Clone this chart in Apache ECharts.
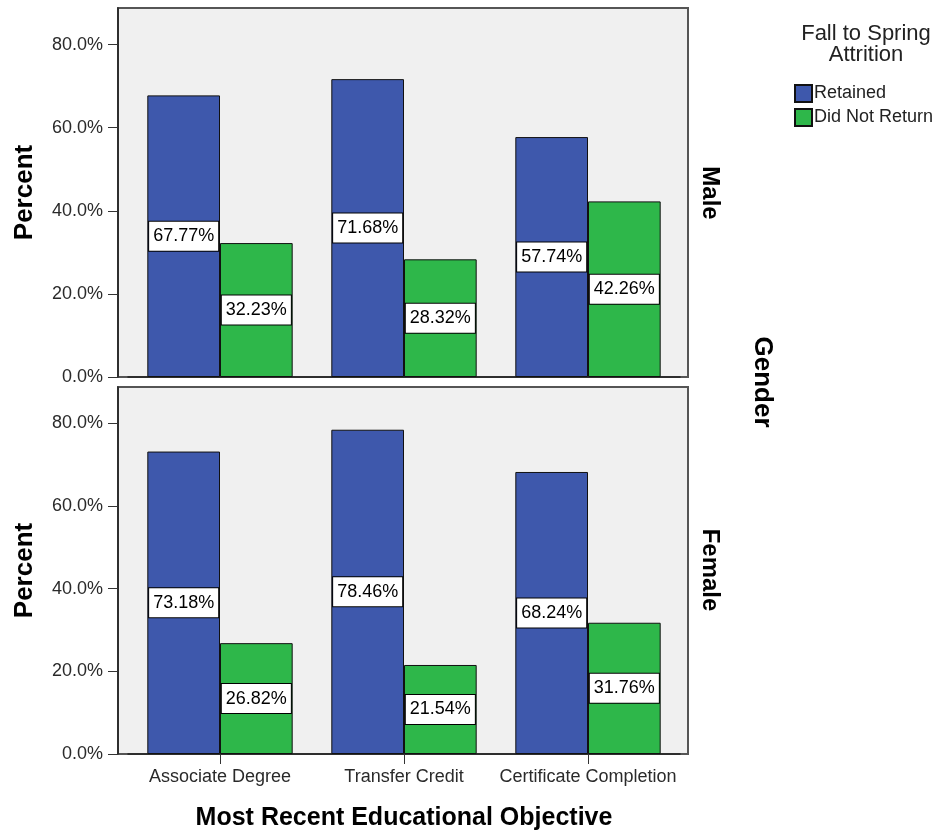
<!DOCTYPE html>
<html>
<head>
<meta charset="utf-8">
<script src="https://cdn.jsdelivr.net/npm/echarts@6/dist/echarts.min.js"></script>
<style>
html,body{margin:0;padding:0;background:#fff;}
#chart{width:936px;height:832px;}
</style>
</head>
<body>
<div id="chart"></div>
<script>
const categories = ['Associate Degree', 'Transfer Credit', 'Certificate Completion'];
const seriesNames = ['Retained', 'Did Not Return'];
const panelNames = ['Male', 'Female'];
const maleRetained = [67.77, 71.68, 57.74];
const maleDidNotReturn = [32.23, 28.32, 42.26];
const femaleRetained = [73.18, 78.46, 68.24];
const femaleDidNotReturn = [26.82, 21.54, 31.76];
const yTicks = [0, 20, 40, 60, 80];

const FONT = '"Liberation Sans", Arial, sans-serif';
const BLUE = '#3e58ac';
const GREEN = '#2eb74a';

const chart = echarts.init(document.getElementById('chart'));

const grids = [
  { left: 128, width: 552, top: 8, height: 369 },
  { left: 128, width: 552, top: 387, height: 367 }
];

function makeYAxis(gi) {
  return {
    type: 'value', gridIndex: gi, min: 0, max: 88.8, offset: 10,
    name: 'Percent', nameLocation: 'middle', nameGap: 80,
    nameTextStyle: { fontFamily: FONT, fontSize: 26, fontWeight: 'bold', color: '#000' },
    axisLine: { show: true, lineStyle: { color: '#222', width: 1.5 } },
    axisTick: { show: true, length: 10, customValues: yTicks, lineStyle: { color: '#333' } },
    axisLabel: { customValues: yTicks, margin: 15, fontFamily: FONT, fontSize: 18, color: '#2a2a2a',
      formatter: v => v.toFixed(1) + '%' },
    splitLine: { show: false }
  };
}

function makeXAxis(gi, bottom) {
  return {
    type: 'category', gridIndex: gi, data: categories, boundaryGap: true,
    axisLine: { show: true, lineStyle: { color: '#222', width: 1.5 } },
    axisTick: { show: bottom, alignWithLabel: true, length: 10, interval: 0, lineStyle: { color: '#333' } },
    axisLabel: { show: bottom, interval: 0, hideOverlap: false, margin: 14, fontFamily: FONT, fontSize: 18, color: '#2a2a2a' },
    name: bottom ? 'Most Recent Educational Objective' : '',
    nameLocation: 'middle', nameGap: 52,
    nameTextStyle: { fontFamily: FONT, fontSize: 25, fontWeight: 'bold', color: '#000' },
    splitLine: { show: false }
  };
}

const labelOpt = {
  show: true, position: 'inside', fontFamily: FONT, fontSize: 18, color: '#000',
  backgroundColor: '#fff', borderColor: '#000', borderWidth: 1,
  padding: [6, 4, 5, 4], lineHeight: 18,
  formatter: p => p.value.toFixed(2) + '%'
};

function bar(name, data, gi, color) {
  return {
    type: 'bar', name: name, xAxisIndex: gi, yAxisIndex: gi, data: data,
    barGap: '0%', barCategoryGap: '21%',
    itemStyle: { color: color, borderColor: '#111', borderWidth: 1 },
    label: labelOpt
  };
}

const frames = grids.map(g => ({
  type: 'rect', z: -10,
  shape: { x: 118, y: g.top, width: 570, height: g.height },
  style: { fill: '#f0f0f0', stroke: '#555', lineWidth: 2 }
}));

function sideText(text, x, y, size) {
  return {
    type: 'text', x: x, y: y, rotation: -Math.PI / 2,
    style: { text: text, fontFamily: FONT, fontSize: size, fontWeight: 'bold', fill: '#000',
      align: 'center', verticalAlign: 'middle' }
  };
}

chart.setOption({
  animation: false,
  backgroundColor: '#fff',
  title: {
    text: 'Fall to Spring\nAttrition', left: 861, top: 18, textAlign: 'center',
    textStyle: { fontFamily: FONT, fontSize: 22, fontWeight: 'normal', color: '#222', lineHeight: 21 }
  },
  legend: {
    data: seriesNames, orient: 'vertical', left: 789, top: 79,
    itemWidth: 17, itemHeight: 17, itemGap: 5, icon: 'rect',
    textStyle: { fontFamily: FONT, fontSize: 18, color: '#222', padding: [0, 0, 0, -3] }
  },
  grid: grids,
  xAxis: [makeXAxis(0, false), makeXAxis(1, true)],
  yAxis: [makeYAxis(0), makeYAxis(1)],
  series: [
    bar(seriesNames[0], maleRetained, 0, BLUE),
    bar(seriesNames[1], maleDidNotReturn, 0, GREEN),
    bar(seriesNames[0], femaleRetained, 1, BLUE),
    bar(seriesNames[1], femaleDidNotReturn, 1, GREEN)
  ],
  graphic: [
    ...frames,
    sideText(panelNames[0], 710, 193, 24),
    sideText('Gender', 762, 382, 26),
    sideText(panelNames[1], 710, 570, 24)
  ]
});
</script>
</body>
</html>
